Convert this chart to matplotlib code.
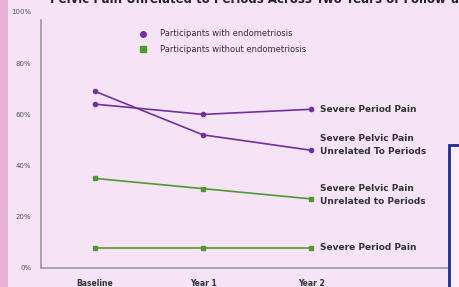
import matplotlib.pyplot as plt
from matplotlib.patches import Rectangle

timepoints = ["Baseline", "Year 1", "Year 2"]
endo_period = [64, 60, 62]
endo_pelvic = [69, 52, 46]
no_endo_pelvic = [35, 31, 27]
no_endo_period = [8, 8, 8]
yticks = [0, 20, 40, 60, 80, 100]

W, H = 459, 287
purple = "#7030a0"
green = "#4f9a2e"
bg = "#f6e3f6"

fig = plt.figure(figsize=(W / 100, H / 100), dpi=100)
fig.patch.set_facecolor(bg)

# pink strip on the left and the cut-off box on the right
fig.patches.append(Rectangle((0, 0), 8 / W, 1, transform=fig.transFigure,
                             facecolor="#e7b2d4", edgecolor="none"))
fig.patches.append(Rectangle((449 / W, -0.1), 30 / W, (H - 145) / H + 0.1,
                             transform=fig.transFigure, facecolor="#f9eefa",
                             edgecolor="#1f2c8c", linewidth=2, zorder=5))

ax = fig.add_axes([41 / W, (H - 268) / H, (448 - 41) / W, (268 - 12) / H])
ax.set_facecolor(bg)
x = range(len(timepoints))

ax.plot(x, endo_period, color=purple, marker="o", markersize=3, lw=1.2)
ax.plot(x, endo_pelvic, color=purple, marker="o", markersize=3, lw=1.2)
ax.plot(x, no_endo_pelvic, color=green, marker="s", markersize=3, lw=1.2)
ax.plot(x, no_endo_period, color=green, marker="s", markersize=3, lw=1.2)

ax.set_xlim((41 - 95) / 108, (448 - 95) / 108)
ax.set_ylim(0, 100)
ax.set_yticks(yticks)
ax.set_yticklabels([f"{v}%" for v in yticks], fontsize=5, color="#555555")
ax.set_xticks(list(x))
ax.set_xticklabels(timepoints, fontsize=5.5, fontweight="bold", color="#333333")
ax.tick_params(length=0, pad=8)
ax.tick_params(axis="y", pad=7)
for s in ["top", "right"]:
    ax.spines[s].set_visible(False)
ax.spines["left"].set_color("#999999")
ax.spines["bottom"].set_color("#999999")
ax.spines["left"].set_linewidth(1.2)
ax.spines["bottom"].set_linewidth(1.2)
ax.spines["left"].set_bounds(0, 97)

# series labels at the right end
lab = dict(fontsize=6.5, fontweight="bold", color="#333333", va="center")
ax.text(2.08, 62, "Severe Period Pain", **lab)
ax.text(2.08, 48, "Severe Pelvic Pain\nUnrelated To Periods", linespacing=1.5, **lab)
ax.text(2.08, 28.5, "Severe Pelvic Pain\nUnrelated to Periods", linespacing=1.5, **lab)
ax.text(2.08, 8, "Severe Period Pain", **lab)

# legend
ax.plot([0.445], [91.5], marker="o", color=purple, markersize=4, clip_on=False)
ax.plot([0.445], [85.5], marker="s", color=green, markersize=4, clip_on=False)
ax.text(0.6, 91.5, "Participants with endometriosis", fontsize=6, color="#333333", va="center")
ax.text(0.6, 85.5, "Participants without endometriosis", fontsize=6, color="#333333", va="center")

fig.text(50 / W, 1.0, "Pelvic Pain Unrelated to Periods Across Two Years of Follow-up",
         fontsize=8.5, fontweight="bold", color="#222222", va="center", ha="left")

fig.savefig("out.png", dpi=100, facecolor=bg)
